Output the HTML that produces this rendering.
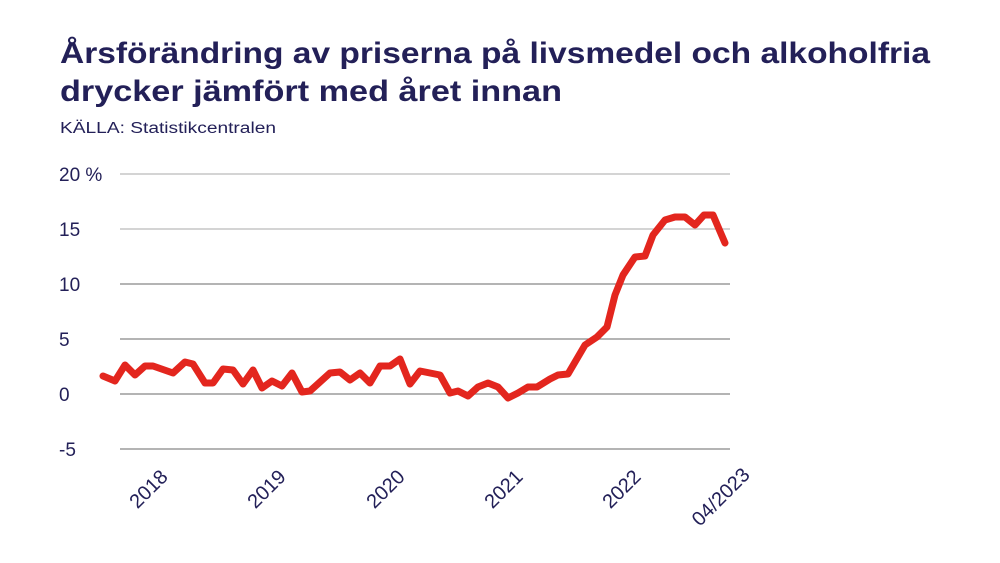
<!DOCTYPE html>
<html><head><meta charset="utf-8"><style>
html,body{margin:0;padding:0;background:#fff;}
svg{display:block;font-family:"Liberation Sans",sans-serif;}
</style></head><body>
<svg width="1000" height="563" viewBox="0 0 1000 563" xmlns="http://www.w3.org/2000/svg">
<rect width="1000" height="563" fill="#fff"/>
<g fill="#232058">
<text x="60" y="63" font-size="30" font-weight="bold" textLength="870" lengthAdjust="spacingAndGlyphs">Årsförändring av priserna på livsmedel och alkoholfria</text>
<text x="60" y="101" font-size="30" font-weight="bold" textLength="502" lengthAdjust="spacingAndGlyphs">drycker jämfört med året innan</text>
<text x="60" y="133" font-size="15.5" textLength="216" lengthAdjust="spacingAndGlyphs">KÄLLA: Statistikcentralen</text>
</g>
<g stroke-width="1.3">
<line x1="120" x2="730" y1="174" y2="174" stroke="#bbb"/>
<line x1="120" x2="730" y1="229" y2="229" stroke="#bbb"/>
<line x1="120" x2="730" y1="284" y2="284" stroke="#888"/>
<line x1="120" x2="730" y1="339" y2="339" stroke="#888"/>
<line x1="120" x2="730" y1="394" y2="394" stroke="#888"/>
<line x1="120" x2="730" y1="449" y2="449" stroke="#888"/>
</g>
<g fill="#232058" font-size="19">
<text x="59" y="181">20 %</text>
<text x="59" y="236">15</text>
<text x="59" y="291">10</text>
<text x="59" y="346">5</text>
<text x="59" y="401">0</text>
<text x="59" y="456">-5</text>
</g>
<g fill="#232058" font-size="20" text-anchor="end">
<text transform="translate(169,478) rotate(-45)">2018</text>
<text transform="translate(287,478) rotate(-45)">2019</text>
<text transform="translate(406,478) rotate(-45)">2020</text>
<text transform="translate(524,478) rotate(-45)">2021</text>
<text transform="translate(642,478) rotate(-45)">2022</text>
<text transform="translate(751,476) rotate(-45)">04/2023</text>
</g>
<polyline fill="none" stroke="#e3261e" stroke-width="7" stroke-linejoin="round" stroke-linecap="round" points="103,376 115,381 125,365 135,375 145,366 153,366 173,373 185,362 193,364 205,383 213,383 223,369 233,370 243,384 253,370 262,388 272,381 282,386 292,373 302,392 310,391 320,382 330,373 340,372 350,380 360,373 370,383 380,366 390,366 400,359 410,384 420,371 430,373 440,375 450,393 458,391 468,396 478,387 488,383 498,387 508,398 518,393 528,387 537,387 550,379 558,375 568,374 585,345 597,337 607,327 615,295 623,275 635,257 645,256 653,235 665,220 675,217 685,217 695,225 704,215 713,215 725,243"/>
</svg>
</body></html>
